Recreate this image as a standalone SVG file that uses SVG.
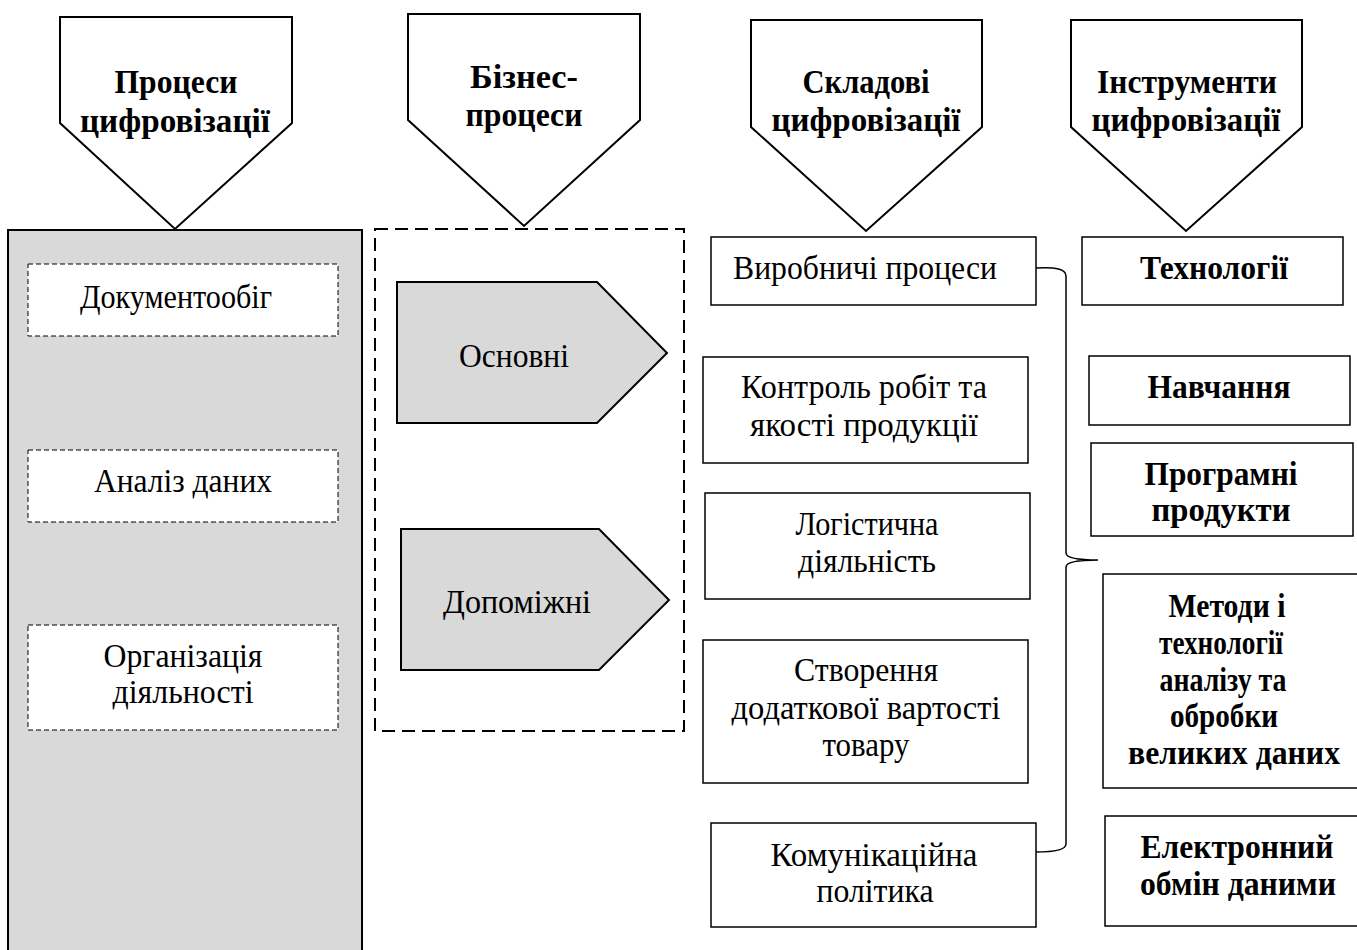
<svg xmlns="http://www.w3.org/2000/svg" width="1357" height="950" viewBox="0 0 1357 950">
<style>
.hdr{fill:#fff;stroke:#000;stroke-width:2}
.hb{font-family:"Liberation Serif","Times New Roman","DejaVu Serif",serif;font-weight:bold;font-size:33px;text-anchor:middle;fill:#000}
.t{font-family:"Liberation Serif","Times New Roman","DejaVu Serif",serif;font-size:33px;text-anchor:middle;fill:#000}
.box{fill:#fff;stroke:#000;stroke-width:1.5}
.gray{fill:#d9d9d9;stroke:#000;stroke-width:2}
.dsm{fill:#fff;stroke:#000;stroke-width:1;stroke-dasharray:5 3}
.dbig{fill:none;stroke:#000;stroke-width:2;stroke-dasharray:13 7}
.brace{fill:none;stroke:#000;stroke-width:1.5}
</style>
<rect width="1357" height="950" fill="#fff"/>
<g id="hdr-procesy">
<polygon class="hdr" points="60,17 292,17 292,123 175,229 60,123"/>
<text class="hb" x="176" y="93" textLength="123" lengthAdjust="spacingAndGlyphs">Процеси</text>
<text class="hb" x="175" y="132" textLength="190" lengthAdjust="spacingAndGlyphs">цифровізації</text>
</g>
<g id="hdr-biznes">
<polygon class="hdr" points="408,14 640,14 640,120 524,226 408,120"/>
<text class="hb" x="524" y="88" textLength="108" lengthAdjust="spacingAndGlyphs">Бізнес-</text>
<text class="hb" x="524" y="126" textLength="117" lengthAdjust="spacingAndGlyphs">процеси</text>
</g>
<g id="hdr-skladovi">
<polygon class="hdr" points="751,20 982,20 982,127 866,231 751,127"/>
<text class="hb" x="866" y="93" textLength="127" lengthAdjust="spacingAndGlyphs">Складові</text>
<text class="hb" x="866" y="131" textLength="189" lengthAdjust="spacingAndGlyphs">цифровізації</text>
</g>
<g id="hdr-instrumenty">
<polygon class="hdr" points="1071,20 1302,20 1302,127 1186,231 1071,127"/>
<text class="hb" x="1187" y="93" textLength="180" lengthAdjust="spacingAndGlyphs">Інструменти</text>
<text class="hb" x="1186" y="131" textLength="189" lengthAdjust="spacingAndGlyphs">цифровізації</text>
</g>
<g id="col-procesy">
<rect class="gray" x="8" y="230" width="354" height="740"/>
</g>
<g id="n-dokumentoobig">
<rect class="dsm" x="28" y="264" width="310" height="72"/>
<text class="t" x="176" y="308" textLength="192" lengthAdjust="spacingAndGlyphs">Документообіг</text>
</g>
<g id="n-analiz">
<rect class="dsm" x="28" y="450" width="310" height="72"/>
<text class="t" x="183" y="492" textLength="178" lengthAdjust="spacingAndGlyphs">Аналіз даних</text>
</g>
<g id="n-organizacia">
<rect class="dsm" x="28" y="625" width="310" height="105"/>
<text class="t" x="183" y="667" textLength="159" lengthAdjust="spacingAndGlyphs">Організація</text>
<text class="t" x="183" y="703" textLength="141" lengthAdjust="spacingAndGlyphs">діяльності</text>
</g>
<g id="col-biznes">
<rect class="dbig" x="375" y="229" width="309" height="502"/>
</g>
<g id="n-osnovni">
<polygon class="gray" points="397,282 597,282 667,353 597,423 397,423"/>
<text class="t" x="514" y="367" textLength="110" lengthAdjust="spacingAndGlyphs">Основні</text>
</g>
<g id="n-dopomizhni">
<polygon class="gray" points="401,529 599,529 669,600 599,670 401,670"/>
<text class="t" x="517" y="613" textLength="148" lengthAdjust="spacingAndGlyphs">Допоміжні</text>
</g>
<g id="n-vyrobnychi">
<rect class="box" x="711" y="237" width="325" height="68"/>
<text class="t" x="865" y="279" textLength="264" lengthAdjust="spacingAndGlyphs">Виробничі процеси</text>
</g>
<g id="n-kontrol">
<rect class="box" x="703" y="357" width="325" height="106"/>
<text class="t" x="864" y="398" textLength="246" lengthAdjust="spacingAndGlyphs">Контроль робіт та</text>
<text class="t" x="864" y="436" textLength="228" lengthAdjust="spacingAndGlyphs">якості продукції</text>
</g>
<g id="n-logistychna">
<rect class="box" x="705" y="493" width="325" height="106"/>
<text class="t" x="867" y="535" textLength="143" lengthAdjust="spacingAndGlyphs">Логістична</text>
<text class="t" x="867" y="572" textLength="138" lengthAdjust="spacingAndGlyphs">діяльність</text>
</g>
<g id="n-stvorennia">
<rect class="box" x="703" y="640" width="325" height="143"/>
<text class="t" x="866" y="681" textLength="144" lengthAdjust="spacingAndGlyphs">Створення</text>
<text class="t" x="866" y="719" textLength="269" lengthAdjust="spacingAndGlyphs">додаткової вартості</text>
<text class="t" x="866" y="756" textLength="87" lengthAdjust="spacingAndGlyphs">товару</text>
</g>
<g id="n-komunikaciina">
<rect class="box" x="711" y="823" width="325" height="104"/>
<text class="t" x="874" y="866" textLength="207" lengthAdjust="spacingAndGlyphs">Комунікаційна</text>
<text class="t" x="875" y="902" textLength="117" lengthAdjust="spacingAndGlyphs">політика</text>
</g>
<g id="n-tekhnologii">
<rect class="box" x="1082" y="237" width="261" height="68"/>
<text class="hb" x="1214" y="279" textLength="148" lengthAdjust="spacingAndGlyphs">Технології</text>
</g>
<g id="n-navchannia">
<rect class="box" x="1089" y="356" width="261" height="69"/>
<text class="hb" x="1219" y="398" textLength="143" lengthAdjust="spacingAndGlyphs">Навчання</text>
</g>
<g id="n-programni">
<rect class="box" x="1091" y="443" width="262" height="93"/>
<text class="hb" x="1221" y="485" textLength="153" lengthAdjust="spacingAndGlyphs">Програмні</text>
<text class="hb" x="1221" y="521" textLength="139" lengthAdjust="spacingAndGlyphs">продукти</text>
</g>
<g id="n-metody">
<rect class="box" x="1103" y="574" width="256" height="214"/>
<text class="hb" x="1227" y="617" textLength="117" lengthAdjust="spacingAndGlyphs">Методи і</text>
<text class="hb" x="1221" y="654" textLength="124" lengthAdjust="spacingAndGlyphs">технології</text>
<text class="hb" x="1223" y="691" textLength="127" lengthAdjust="spacingAndGlyphs">аналізу та</text>
<text class="hb" x="1224" y="727" textLength="108" lengthAdjust="spacingAndGlyphs">обробки</text>
<text class="hb" x="1234" y="764" textLength="212" lengthAdjust="spacingAndGlyphs">великих даних</text>
</g>
<g id="n-elektronnyi">
<rect class="box" x="1105" y="816" width="254" height="110"/>
<text class="hb" x="1237" y="858" textLength="193" lengthAdjust="spacingAndGlyphs">Електронний</text>
<text class="hb" x="1238" y="895" textLength="196" lengthAdjust="spacingAndGlyphs">обмін даними</text>
</g>
<g id="connectors">
<path class="brace" d="M1036,268 Q1066,266 1066,276 L1066,553 Q1066,560 1098,560 Q1066,560 1066,567 L1066,844 Q1066,852 1036,852"/>
</g>
</svg>
